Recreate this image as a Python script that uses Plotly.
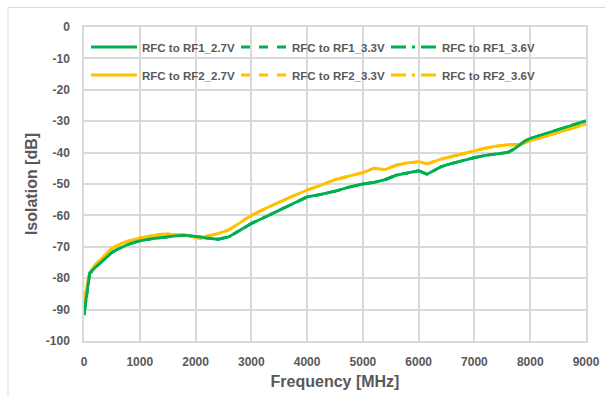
import plotly.graph_objects as go

# Frequency points (MHz)
freq = [0, 50, 100, 200, 300, 400, 500, 600, 700, 800, 900, 1000, 1200, 1400, 1500, 1600,
        1800, 2000, 2100, 2200, 2400, 2600, 2800, 3000, 3250, 3500, 3750, 4000, 4250, 4500,
        4750, 5000, 5200, 5400, 5600, 5800, 6000, 6150, 6400, 6600, 6800, 7000, 7200, 7400,
        7500, 7600, 7700, 7800, 7900, 8000, 8250, 8500, 8750, 9000]

# Isolation RFC -> RF1 (dB)
rf1_27 = [-91.7, -85.0, -78.5, -76.6, -75.0, -73.2, -71.8, -70.8, -69.9, -69.2, -68.6, -68.1,
          -67.5, -67.0, -66.8, -66.6, -66.3, -66.6, -66.9, -67.2, -67.6, -66.8, -64.7, -62.6,
          -60.5, -58.4, -56.2, -54.1, -53.3, -52.3, -51.0, -50.0, -49.5, -48.6, -47.2, -46.4,
          -45.8, -46.9, -44.5, -43.4, -42.4, -41.6, -40.9, -40.4, -40.2, -39.9, -39.0, -37.6,
          -36.4, -35.5, -34.1, -32.8, -31.3, -29.9]
rf1_33 = list(rf1_27)
rf1_36 = list(rf1_27)

# Isolation RFC -> RF2 (dB)
rf2_27 = [-87.5, -83.0, -78.2, -75.8, -74.0, -72.1, -70.5, -69.5, -68.7, -68.1, -67.6, -67.2,
          -66.5, -66.0, -65.9, -66.1, -66.2, -67.0, -67.3, -66.6, -65.8, -64.6, -62.2, -60.0,
          -57.8, -55.7, -53.8, -51.9, -50.4, -48.6, -47.4, -46.4, -45.0, -45.4, -44.0, -43.3,
          -42.9, -43.6, -42.1, -41.2, -40.3, -39.4, -38.6, -37.9, -37.6, -37.5, -37.5, -37.4,
          -37.0, -36.2, -34.9, -33.6, -32.2, -30.9]
rf2_33 = list(rf2_27)
rf2_36 = list(rf2_27)

x_ticks = [0, 1000, 2000, 3000, 4000, 5000, 6000, 7000, 8000, 9000]
y_ticks = [0, -10, -20, -30, -40, -50, -60, -70, -80, -90, -100]

GREEN = "#00B050"
YELLOW = "#FFC000"
GRID = "#D9D9D9"
TXT = "#595959"

series = [
    ("RFC to RF1_2.7V", rf1_27, GREEN, "solid", "legend", 1),
    ("RFC to RF1_3.3V", rf1_33, GREEN, "dash", "legend", 2),
    ("RFC to RF1_3.6V", rf1_36, GREEN, "longdashdot", "legend", 3),
    ("RFC to RF2_2.7V", rf2_27, YELLOW, "solid", "legend2", 1),
    ("RFC to RF2_3.3V", rf2_33, YELLOW, "dash", "legend2", 2),
    ("RFC to RF2_3.6V", rf2_36, YELLOW, "longdashdot", "legend2", 3),
]

fig = go.Figure()
# dashed traces first (they lie under the solid ones), solid last
draw_order = [1, 2, 4, 5, 3, 0]
for i in draw_order:
    name, vals, col, dash, leg, rank = series[i]
    fig.add_trace(go.Scatter(
        x=freq, y=vals, name=name, mode="lines",
        line=dict(color=col, width=2.8, dash=dash),
        legend=leg, legendrank=rank,
    ))

legend_common = dict(
    orientation="h", x=0.004, xanchor="left", yanchor="middle",
    bgcolor="rgba(0,0,0,0)", itemwidth=46, entrywidth=89, entrywidthmode="pixels",
    font=dict(family="Liberation Sans, Arial", size=11.5, color=TXT, weight="bold"),
    traceorder="normal",
)

fig.update_layout(
    width=605, height=396,
    margin=dict(l=84, r=19, t=27, b=55),
    paper_bgcolor="white", plot_bgcolor="white",
    font=dict(family="Liberation Sans, Arial", color=TXT),
    legend=dict(legend_common, y=1 - (47 - 27) / 314),
    legend2=dict(legend_common, y=1 - (75 - 27) / 314),
    xaxis=dict(
        range=[0, 9000], tickvals=x_ticks, ticktext=[str(v) for v in x_ticks],
        showgrid=True, gridcolor=GRID, gridwidth=1.5,
        showline=True, linecolor=GRID, linewidth=1.5, mirror=True,
        ticks="outside", ticklen=9, tickcolor="rgba(0,0,0,0)",
        tickfont=dict(size=12, color=TXT, weight="bold"),
        title=dict(text="Frequency [MHz]", font=dict(size=16, color=TXT, weight="bold"), standoff=8),
        zeroline=False, automargin=False,
    ),
    yaxis=dict(
        range=[-100, 0], tickvals=y_ticks, ticktext=[str(v) for v in y_ticks],
        showgrid=True, gridcolor=GRID, gridwidth=1.5,
        showline=True, linecolor=GRID, linewidth=1.5, mirror=True,
        ticks="outside", ticklen=10, tickcolor="rgba(0,0,0,0)",
        tickfont=dict(size=12, color=TXT, weight="bold"),
        title=dict(text="Isolation [dB]", font=dict(size=16, color=TXT, weight="bold"), standoff=4),
        zeroline=False, automargin=False,
    ),
    shapes=[dict(type="rect", xref="paper", yref="paper",
                 x0=(8 - 84) / 502, x1=1.2, y0=-0.3, y1=1 + (27 - 7.5) / 314,
                 line=dict(color=GRID, width=1), fillcolor="rgba(0,0,0,0)", layer="below")],
)

fig.write_html("out.html")
